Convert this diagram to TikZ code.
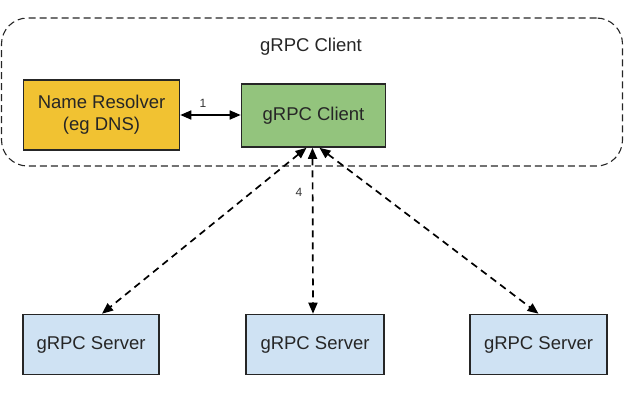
\documentclass[tikz,border=0pt]{standalone}
\usepackage{fontspec}
\setmainfont{Liberation Sans}
\usetikzlibrary{arrows.meta}
\definecolor{resolverfill}{HTML}{F1C232}
\definecolor{clientfill}{HTML}{93C47D}
\definecolor{serverfill}{HTML}{CFE2F3}
\begin{document}
\begin{tikzpicture}[x=1pt,y=-1pt,
  boxstyle/.style={draw=black!85, line width=1.6pt, inner sep=0pt, align=center,
    font=\fontsize{18.5}{22}\selectfont, text=black!85},
  conn/.style={line width=1.7pt, dash pattern=on 7pt off 5pt,
    {Triangle[length=11pt,width=9pt]}-{Triangle[length=11pt,width=9pt]}},
  numlabel/.style={font=\fontsize{12}{14}\selectfont, text=black!80}]
\useasboundingbox (0,0) rectangle (635,412);
% outer dashed region
\node[draw=black!85, line width=1.1pt, dash pattern=on 7pt off 4pt, rounded corners=26pt,
  minimum width=621pt, minimum height=148pt, inner sep=0pt] (region) at (312,92) {};
\node[font=\fontsize{18.5}{22}\selectfont, text=black!85] (title) at (311,47) {gRPC Client};
% boxes
\node[boxstyle, fill=resolverfill, minimum width=156pt, minimum height=70pt] (resolver) at (101.5,115) {Name Resolver\\(eg DNS)};
\node[boxstyle, fill=clientfill, minimum width=144pt, minimum height=63pt] (client) at (313.5,115.5) {gRPC Client};
\node[boxstyle, fill=serverfill, minimum width=136pt, minimum height=60pt] (s1) at (91,344.5) {\raisebox{-1.5pt}{gRPC Server}};
\node[boxstyle, fill=serverfill, minimum width=138pt, minimum height=60pt] (s2) at (315,344.5) {\raisebox{-1.5pt}{gRPC Server}};
\node[boxstyle, fill=serverfill, minimum width=137pt, minimum height=60pt] (s3) at (538.5,344.5) {\raisebox{-1.5pt}{gRPC Server}};
% connectors
\draw[line width=1.7pt, {Triangle[length=11pt,width=9pt]}-{Triangle[length=11pt,width=9pt]}]
  (resolver.east) -- (resolver.east -| client.west);
\node[numlabel] (l1) at (203,103) {1};
\draw[conn] ([xshift=-7pt]client.south) -- ([xshift=11pt]s1.north);
\draw[conn] ([xshift=-1pt]client.south) -- ([xshift=-2pt]s2.north);
\draw[conn] ([xshift=6pt]client.south) -- ([xshift=0pt]s3.north);
\node[numlabel] (l4) at (299,192) {4};
\end{tikzpicture}
\end{document}
